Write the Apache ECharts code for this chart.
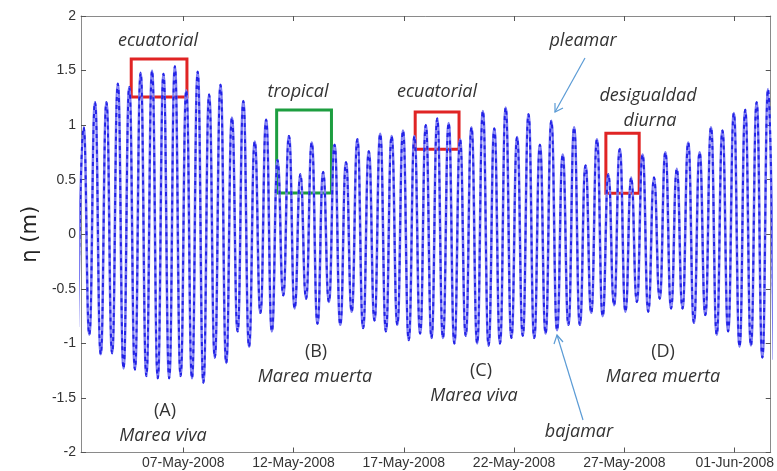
<!DOCTYPE html>
<html>
<head>
<meta charset="utf-8">
<script src="https://cdn.jsdelivr.net/npm/echarts@6/dist/echarts.min.js"></script>
<style>
  html, body { margin: 0; padding: 0; background: #fff; }
  #chart { width: 777px; height: 471px; }
</style>
</head>
<body>
<div id="chart"></div>
<script>
// fechas de los ticks del eje x
var tickDates = [Date.UTC(2008, 4, 7), Date.UTC(2008, 4, 12), Date.UTC(2008, 4, 17),
  Date.UTC(2008, 4, 22), Date.UTC(2008, 4, 27), Date.UTC(2008, 5, 1)];
var tickLabels = ['07-May-2008', '12-May-2008', '17-May-2008', '22-May-2008', '27-May-2008', '01-Jun-2008'];
var yTicks = [-2, -1.5, -1, -0.5, 0, 0.5, 1, 1.5, 2];

// pleamares (m), una por ciclo semidiurno
var pleamar = [0.98, 1.21, 1.21, 1.38, 1.35, 1.48, 1.50, 1.47, 1.54, 1.32,
  1.49, 1.28, 1.37, 1.07, 1.22, 0.85, 1.05, 0.68, 0.90, 0.55,
  0.84, 0.57, 0.82, 0.66, 0.87, 0.76, 0.92, 0.90, 0.95, 0.90,
  1.00, 1.06, 1.02, 0.87, 0.98, 1.13, 0.97, 1.16, 0.89, 1.10,
  0.82, 1.04, 0.73, 0.98, 0.63, 0.87, 0.55, 0.78, 0.52, 0.73,
  0.52, 0.75, 0.60, 0.84, 0.75, 0.98, 0.95, 1.11, 1.14, 1.21, 1.33];
// bajamares (m), la primera antes de la primera pleamar
var bajamar = [-0.85, -0.92, -1.10, -1.09, -1.23, -1.24, -1.30, -1.32, -1.32, -1.30,
  -1.32, -1.36, -1.13, -1.18, -0.89, -1.03, -0.72, -0.89, -0.56, -0.68,
  -0.59, -0.82, -0.62, -0.83, -0.71, -0.86, -0.79, -0.89, -0.83, -0.97,
  -0.91, -0.95, -0.95, -1.00, -0.93, -1.00, -1.02, -1.00, -0.95, -0.93,
  -0.95, -0.91, -0.88, -0.83, -0.83, -0.72, -0.75, -0.65, -0.71, -0.62,
  -0.71, -0.59, -0.68, -0.68, -0.81, -0.74, -0.92, -0.89, -1.03, -1.02,
  -1.13, -1.15];

var DAY = 86400000;
var ref = tickDates[0];
var tStart = ref - 4.776 * DAY;      // primera bajamar
var halfStep = 6.206 * 3600000;       // media marea semidiurna

// serie alterna bajamar / pleamar
var serie = [];
for (var i = 0; i < bajamar.length; i++) {
  serie.push([tStart + (2 * i) * halfStep, bajamar[i]]);
  if (i < pleamar.length) {
    serie.push([tStart + (2 * i + 1) * halfStep, pleamar[i]]);
  }
}

function fmtDate(v) {
  var idx = tickDates.indexOf(v);
  return idx >= 0 ? tickLabels[idx] : '';
}

function caja(d0, d1, v0, v1, color) {
  return [{
    coord: [ref + d0 * DAY, v1],
    itemStyle: { color: 'rgba(0,0,0,0)', borderColor: color, borderWidth: 3 }
  }, {
    coord: [ref + d1 * DAY, v0]
  }];
}

var chart = echarts.init(document.getElementById('chart'));
var axisGray = '#8a8a8a';
var txt = { fontFamily: 'Open Sans', fontStyle: 'italic', fontSize: 18, fill: '#333' };
var txtN = { fontFamily: 'Open Sans', fontSize: 18, fill: '#333' };

function label(x, y, s, style) {
  return { type: 'text', x: x, y: y, style: Object.assign({ text: s, textAlign: 'center', textVerticalAlign: 'middle' }, style) };
}

var option = {
  animation: false,
  grid: { left: 81, right: 4, top: 16, bottom: 18.5 },
  xAxis: [{
    type: 'value',
    min: ref - 4.636 * DAY,
    max: ref + 26.634 * DAY,
    axisLine: { onZero: false, lineStyle: { color: axisGray } },
    axisTick: { inside: true, length: 5, customValues: tickDates, lineStyle: { color: '#555' } },
    axisLabel: { customValues: tickDates, formatter: fmtDate, margin: 4, color: '#333', fontSize: 14, fontFamily: 'Liberation Sans' },
    splitLine: { show: false }
  }, {
    type: 'value',
    position: 'top',
    min: ref - 4.636 * DAY,
    max: ref + 26.634 * DAY,
    axisLine: { show: true, onZero: false, lineStyle: { color: axisGray } },
    axisTick: { inside: true, length: 5, customValues: tickDates, lineStyle: { color: '#555' } },
    axisLabel: { show: false },
    splitLine: { show: false }
  }],
  yAxis: [{
    type: 'value',
    min: -2, max: 2, interval: 0.5,
    name: 'η (m)',
    nameLocation: 'middle',
    nameGap: 36,
    nameTextStyle: { fontSize: 21, color: '#222', fontFamily: 'DejaVu Sans' },
    axisLine: { show: true, onZero: false, lineStyle: { color: axisGray } },
    axisTick: { show: true, inside: true, length: 5, lineStyle: { color: '#555' } },
    axisLabel: { color: '#333', fontSize: 14, margin: 5, fontFamily: 'Liberation Sans' },
    splitLine: { show: false }
  }, {
    type: 'value',
    position: 'right',
    min: -2, max: 2, interval: 0.5,
    axisLine: { show: true, onZero: false, lineStyle: { color: axisGray } },
    axisTick: { show: true, inside: true, length: 5, lineStyle: { color: '#555' } },
    axisLabel: { show: false },
    splitLine: { show: false }
  }],
  series: [{
    type: 'line',
    data: serie,
    showSymbol: false,
    smooth: 0.5,
    smoothMonotone: 'x',
    lineStyle: { color: '#7d7df3', width: 2.6 }
  }, {
    type: 'line',
    data: serie,
    showSymbol: false,
    smooth: 0.5,
    smoothMonotone: 'x',
    lineStyle: { color: '#2222e6', width: 2, type: [4, 4] },
    markArea: {
      silent: true,
      label: { show: false },
      data: [
        caja(-2.359, 0.167, 1.258, 1.606, '#e02424'),
        caja(4.234, 6.719, 0.378, 1.138, '#1d9e40'),
        caja(10.515, 12.503, 0.78, 1.12, '#e02424'),
        caja(19.16, 20.67, 0.375, 0.925, '#e02424')
      ]
    }
  }],
  graphic: [
    label(158, 41, 'ecuatorial', txt),
    label(298, 92, 'tropical', txt),
    label(437, 92, 'ecuatorial', txt),
    label(583, 41, 'pleamar', txt),
    label(648, 96, 'desigualdad', txt),
    label(650, 121, 'diurna', txt),
    label(165, 411, '(A)', txtN),
    label(163, 436, 'Marea viva', txt),
    label(316, 352, '(B)', txtN),
    label(315, 377, 'Marea muerta', txt),
    label(481, 371, '(C)', txtN),
    label(474, 396, 'Marea viva', txt),
    label(663, 352, '(D)', txtN),
    label(663, 377, 'Marea muerta', txt),
    label(579, 432, 'bajamar', txt),
    // flechas
    { type: 'line', shape: { x1: 585, y1: 58, x2: 555, y2: 112 }, style: { stroke: '#5b9bd5', lineWidth: 1.2 } },
    { type: 'polyline', shape: { points: [[555, 103], [555, 112], [563, 108]] }, style: { stroke: '#5b9bd5', lineWidth: 1.2, fill: null } },
    { type: 'line', shape: { x1: 583, y1: 420, x2: 557, y2: 335 }, style: { stroke: '#5b9bd5', lineWidth: 1.2 } },
    { type: 'polyline', shape: { points: [[554, 344], [557, 335], [563, 342]] }, style: { stroke: '#5b9bd5', lineWidth: 1.2, fill: null } }
  ]
};
chart.setOption(option);
</script>
</body>
</html>
